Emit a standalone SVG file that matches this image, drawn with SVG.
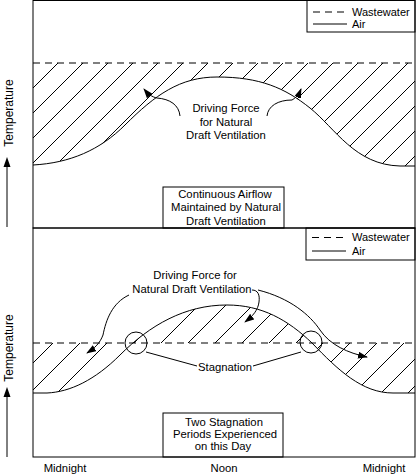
<svg xmlns="http://www.w3.org/2000/svg" width="417" height="475" viewBox="0 0 417 475">
<style>
text{font-family:"Liberation Sans",Arial,sans-serif;fill:#000}
.t{font-size:11.3px;text-anchor:middle}
.lg{font-size:11px}
.ax{font-size:12px;text-anchor:middle}
.ln{fill:none;stroke:#000;stroke-width:1}
.dash{fill:none;stroke:#000;stroke-width:1.2;stroke-dasharray:7,5}
.hatch{fill:none;stroke:#000;stroke-width:1}
.arr{fill:none;stroke:#000;stroke-width:1;marker-end:url(#ah)}
</style>
<defs>
<marker id="ah" markerUnits="userSpaceOnUse" markerWidth="10" markerHeight="7" refX="9" refY="3.5" orient="auto">
<path d="M0,0 L10,3.5 L0,7 z" fill="#000"/>
</marker>
<clipPath id="cTop">
<path d="M33,63 L415,63 L415,166 L400,166 C355,165 335,128 310,108 C285,88 260,77 217,77 C180,77 155,95 125,125 C100,150 70,163 33,165 Z"/>
</clipPath>
<clipPath id="cBot">
<path d="M33,343 L415,343 L415,393 L393,393 C362,393 338,370 312,343 C288,320 262,305 227,305 C185,305 150,325 120,355 C95,380 70,392 47,393 L33,393 Z"/>
</clipPath>
</defs>
<rect width="417" height="475" fill="#fff"/>

<g id="panel-top">
<rect class="ln" x="33" y="0.5" width="382" height="227.5"/>
<g clip-path="url(#cTop)">
<path class="hatch" d="M-74,170L36,60M-49,170L61,60M-24,170L86,60M1,170L111,60M26,170L136,60M51,170L161,60M76,170L186,60M101,170L211,60M126,170L236,60M151,170L261,60M176,170L286,60M201,170L311,60M226,170L336,60M251,170L361,60M276,170L386,60M301,170L411,60M326,170L436,60M351,170L461,60M376,170L486,60M401,170L511,60"/>
</g>
<line class="dash" x1="33" y1="63" x2="415" y2="63"/>
<path class="ln" d="M33,165 C70,163 100,150 125,125 C155,95 180,77 217,77 C260,77 285,88 310,108 C335,128 355,165 400,166 L415,166"/>
</g>

<g id="legend-top">
<rect class="ln" x="307" y="0.5" width="108" height="31.5"/>
<line class="dash" x1="313" y1="12" x2="347" y2="12"/>
<line class="ln" x1="313" y1="24" x2="347" y2="24"/>
<text class="lg" x="352" y="15.5">Wastewater</text>
<text class="lg" x="352" y="27.5">Air</text>
</g>

<g id="label-top-driving">
<text class="t" x="226" y="112">Driving Force</text>
<text class="t" x="226" y="125.5">for Natural</text>
<text class="t" x="226" y="139">Draft Ventilation</text>
</g>

<g id="box-top">
<rect class="ln" x="163" y="187" width="121" height="41"/>
<text class="t" x="225" y="198">Continuous Airflow</text>
<text class="t" x="226" y="211">Maintained by Natural</text>
<text class="t" x="226" y="224.5">Draft Ventilation</text>
</g>

<g id="panel-bottom">
<rect class="ln" x="33" y="228" width="382" height="229"/>
<g clip-path="url(#cBot)">
<path class="hatch" d="M-58,400L42,300M-31,400L69,300M-4,400L96,300M23,400L123,300M50,400L150,300M77,400L177,300M104,400L204,300M131,400L231,300M158,400L258,300M185,400L285,300M212,400L312,300M239,400L339,300M266,400L366,300M293,400L393,300M320,400L420,300M347,400L447,300M374,400L474,300M401,400L501,300"/>
</g>
<line class="dash" x1="33" y1="343" x2="415" y2="343"/>
<path class="ln" d="M33,393 L47,393 C70,392 95,380 120,355 C150,325 185,305 227,305 C262,305 288,320 312,343 C338,370 362,393 393,393 L415,393"/>
</g>

<g id="legend-bottom">
<rect class="ln" x="306" y="228" width="109" height="32"/>
<line class="dash" x1="312" y1="237.5" x2="346" y2="237.5"/>
<line class="ln" x1="312" y1="251" x2="346" y2="251"/>
<text class="lg" x="352" y="241">Wastewater</text>
<text class="lg" x="352" y="254.5">Air</text>
</g>

<g id="label-bottom-driving">
<text class="t" x="195" y="279">Driving Force for</text>
<text class="t" x="192" y="293">Natural Draft Ventilation</text>
</g>

<g id="stagnation">
<circle class="ln" cx="136" cy="343" r="11"/>
<circle class="ln" cx="311" cy="342" r="11"/>
<text class="t" x="225" y="371">Stagnation</text>
</g>

<g id="box-bottom">
<rect class="ln" x="163" y="413" width="120" height="44"/>
<text class="t" x="224" y="426">Two Stagnation</text>
<text class="t" x="225" y="437.5">Periods Experienced</text>
<text class="t" x="223" y="450">on this Day</text>
</g>

<g id="x-labels">
<text class="t" x="65" y="472">Midnight</text>
<text class="t" x="224" y="472">Noon</text>
<text class="t" x="384" y="472">Midnight</text>
</g>

<g id="y-axis-top">
<text class="ax" transform="translate(13,113) rotate(-90)">Temperature</text>
<path d="M7,157 L10.5,167 L3.5,167 Z" fill="#000"/>
<line class="ln" x1="7" y1="167" x2="7" y2="227"/>
</g>
<g id="y-axis-bottom">
<text class="ax" transform="translate(13,348) rotate(-90)">Temperature</text>
<path d="M7,387 L10.5,397 L3.5,397 Z" fill="#000"/>
<line class="ln" x1="7" y1="397" x2="7" y2="457"/>
</g>

<g id="connectors">
<path class="arr" d="M180,116 C179,105 170,99 157,98 C152,97 148,94 144,89"/>
<path class="arr" d="M267,116 C268,106 278,100 292,100 C296,98 299,94 301,89"/>
<path class="arr" d="M129,295 C112,303 106,320 103,335 C100,343 95,348 87,353"/>
<path class="arr" d="M252,290 C258,290 260,295 259,302 C258,310 253,316 245,322"/>
<path class="arr" d="M258,290 C290,298 310,315 320,330 C330,345 348,353 367,357"/>
<line class="ln" x1="146" y1="352" x2="197" y2="366"/>
<line class="ln" x1="253" y1="366" x2="301" y2="352"/>
</g>
</svg>
